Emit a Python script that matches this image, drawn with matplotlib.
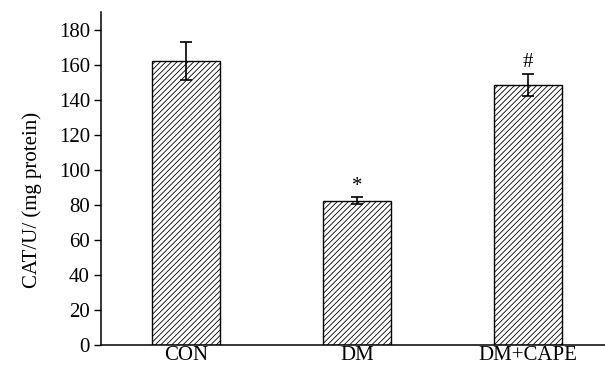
import numpy as np
import matplotlib.pyplot as plt

plt.rcParams['font.family'] = ['Liberation Serif', 'DejaVu Serif']
plt.rcParams['hatch.linewidth'] = 0.6
plt.rcParams['hatch.color'] = '#333333'

groups = ['CON', 'DM', 'DM+CAPE']
cat_mean = [162.1, 82.4, 148.4]
cat_err = [10.6, 1.8, 6.2]
marks = ['', '*', '#']

fig = plt.figure(figsize=(6.05, 3.67), dpi=100)
ax = fig.add_axes([0.167, 0.06, 0.833, 0.907])

x = np.arange(len(groups))
ax.bar(x, cat_mean, width=0.4, color='white', edgecolor='black',
       linewidth=1.0, hatch='//////', zorder=2)
ax.errorbar(x, cat_mean, yerr=cat_err, fmt='none', ecolor='black',
            elinewidth=1.2, capsize=4.5, capthick=1.2, zorder=3)

# significance marks above the error bars
for xi, m, e, s in zip(x, cat_mean, cat_err, marks):
    if s:
        ax.text(xi, m + e + 1.0, s, ha='center', va='bottom', fontsize=15)

ax.set_xlim(-0.497, 2.45)
ax.set_ylim(0, 190)
ax.set_yticks(np.arange(0, 181, 20))
ax.set_xticks(x, labels=groups)
ax.tick_params(axis='x', length=0, labelsize=15, pad=1)
ax.tick_params(axis='y', direction='out', length=5, width=1, labelsize=15, pad=3)
ax.spines[['top', 'right']].set_visible(False)
ax.spines['left'].set_linewidth(1.1)
ax.spines['bottom'].set_linewidth(1.1)
ax.set_ylabel('CAT/U/ (mg protein)', fontsize=15)
ax.yaxis.set_label_coords(-0.117, 0.435)

plt.savefig('out.png', dpi=100)
